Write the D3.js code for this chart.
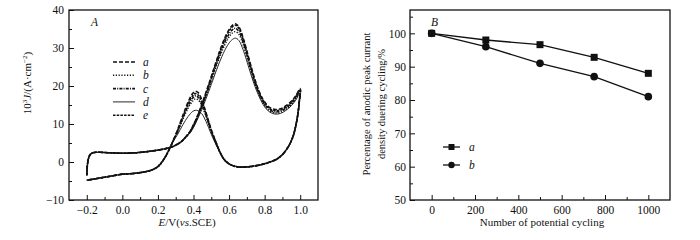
<!DOCTYPE html>
<html>
<head>
<meta charset="utf-8">
<script src="https://cdn.jsdelivr.net/npm/d3@7"></script>
<style>
  body { margin: 0; background: #fff; }
  text { font-family: "Liberation Serif", "Times New Roman", serif; fill: #111; }
</style>
</head>
<body>
<svg id="chart" width="700" height="240"></svg>
<script>
// ---- panel A data : cyclic voltammograms, [E (V), 10^3 J (A/cm2)] ----
// shared parts of the loop
const fwdLow = [[-0.2,-3.5],[-0.197,-1],[-0.19,1],[-0.18,2],[-0.165,2.45],[-0.13,2.55],[-0.08,2.45],[0.0,2.3],[0.08,2.45],[0.15,2.8],[0.22,3.3],[0.28,4],[0.33,5.3],[0.355,6.5]];
const revHigh = [[0.995,16],[0.988,13],[0.975,9.5],[0.958,6.5],[0.935,4.2],[0.905,2.2],[0.87,0.8],[0.83,0],[0.78,-0.7],[0.72,-1.2],[0.67,-1.35],[0.63,-1.1],[0.6,-0.5],[0.575,0.5],[0.555,2]];
const revLow = [[0.28,5],[0.255,2.5],[0.23,0.5],[0.2,-1.2],[0.16,-2.2],[0.1,-2.8],[0.04,-3.1],[0.0,-3.2],[-0.05,-3.6],[-0.1,-4],[-0.15,-4.4],[-0.2,-4.8]];

// per curve: forward peak part and reverse peak part
const fwdA = [[0.38,8],[0.41,10.8],[0.44,14.3],[0.47,18.3],[0.5,22.5],[0.53,26.8],[0.56,30.8],[0.59,34],[0.615,35.8],[0.635,36.4],[0.655,35.6],[0.68,32.5],[0.71,27.5],[0.74,22.5],[0.77,18.5],[0.8,15.8],[0.83,14.3],[0.86,13.8],[0.89,14],[0.92,14.8],[0.95,16],[0.975,17.4],[1.0,19.3]];
const revA = [[0.53,4.8],[0.5,8.5],[0.47,13],[0.445,16.6],[0.425,18.3],[0.41,18.6],[0.395,18],[0.37,15.8],[0.34,12.2],[0.31,8.4]];

const fwdB = [[0.38,7.8],[0.41,10.3],[0.44,13.6],[0.47,17.3],[0.5,21.3],[0.53,25.4],[0.56,29.1],[0.59,32.1],[0.615,33.8],[0.635,34.3],[0.655,33.6],[0.68,30.7],[0.71,26],[0.74,21.3],[0.77,17.6],[0.8,14.9],[0.83,13.4],[0.86,12.9],[0.89,13.1],[0.92,13.9],[0.95,15.1],[0.975,16.6],[1.0,18.5]];
const revB = [[0.53,4.5],[0.5,7.9],[0.47,12],[0.445,15],[0.425,16.4],[0.41,16.6],[0.395,16],[0.37,14.2],[0.34,11.2],[0.31,7.8]];

const fwdC = [[0.38,7.9],[0.41,10.5],[0.44,13.9],[0.47,17.7],[0.5,21.8],[0.53,26],[0.56,29.8],[0.59,32.9],[0.615,34.6],[0.635,35.2],[0.655,34.4],[0.68,31.4],[0.71,26.6],[0.74,21.7],[0.77,17.9],[0.8,15.2],[0.83,13.7],[0.86,13.2],[0.89,13.4],[0.92,14.2],[0.95,15.4],[0.975,16.9],[1.0,18.8]];
const revC = [[0.53,4.6],[0.5,8.1],[0.47,12.4],[0.445,15.6],[0.425,17.1],[0.41,17.4],[0.395,16.8],[0.37,14.8],[0.34,11.6],[0.31,8]];

const fwdD = [[0.38,7.6],[0.41,10],[0.44,13.1],[0.47,16.6],[0.5,20.4],[0.53,24.3],[0.56,27.8],[0.59,30.6],[0.615,32.1],[0.635,32.6],[0.655,32],[0.68,29.4],[0.71,25],[0.74,20.6],[0.77,17.1],[0.8,14.5],[0.83,13.1],[0.86,12.6],[0.89,12.8],[0.92,13.6],[0.95,14.8],[0.975,16.3],[1.0,18.2]];
const revD = [[0.53,4.2],[0.5,7.3],[0.47,10.7],[0.445,12.8],[0.425,13.5],[0.41,13.6],[0.395,13.3],[0.37,12],[0.34,9.8],[0.31,7.2]];

const fwdE = [[0.38,8],[0.41,10.7],[0.44,14.1],[0.47,18],[0.5,22.2],[0.53,26.5],[0.56,30.4],[0.59,33.6],[0.615,35.4],[0.635,36],[0.655,35.2],[0.68,32.1],[0.71,27.1],[0.74,22.1],[0.77,18.2],[0.8,15.5],[0.83,14],[0.86,13.5],[0.89,13.7],[0.92,14.5],[0.95,15.7],[0.975,17.2],[1.0,19.1]];
const revE = [[0.53,4.7],[0.5,8.3],[0.47,12.7],[0.445,16.1],[0.425,17.7],[0.41,18],[0.395,17.4],[0.37,15.3],[0.34,11.9],[0.31,8.2]];

const cvNames = ["a", "b", "c", "d", "e"];

// ---- panel B data ----
const cycles = [0, 250, 500, 750, 1000];
const percentA = [100, 98, 96.6, 92.8, 88];
const percentB = [100, 96, 91, 87, 81];

const svg = d3.select("#chart");

// ================= panel A =================
const xA = d3.scaleLinear().domain([-0.3, 1.1]).range([69, 318]);
const yA = d3.scaleLinear().domain([-10, 40]).range([200, 10]);

const gA = svg.append("g");

gA.append("g")
  .attr("transform", "translate(0,200)")
  .call(d3.axisBottom(xA).tickValues([-0.2, 0, 0.2, 0.4, 0.6, 0.8, 1.0])
    .tickFormat(d3.format(".1f")).tickSizeInner(-5).tickSizeOuter(0).tickPadding(6));
gA.append("g")
  .attr("transform", "translate(0,200)")
  .call(d3.axisBottom(xA).tickValues([-0.1, 0.1, 0.3, 0.5, 0.7, 0.9])
    .tickFormat("").tickSizeInner(-3).tickSizeOuter(0));
gA.append("g")
  .attr("transform", "translate(69,0)")
  .call(d3.axisLeft(yA).tickValues([-10, 0, 10, 20, 30, 40])
    .tickSizeInner(-5).tickSizeOuter(0).tickPadding(5));
gA.append("g")
  .attr("transform", "translate(69,0)")
  .call(d3.axisLeft(yA).tickValues([-5, 5, 15, 25, 35])
    .tickFormat("").tickSizeInner(-3).tickSizeOuter(0));

gA.append("rect")
  .attr("x", 69).attr("y", 10).attr("width", 318 - 69).attr("height", 190)
  .attr("fill", "none").attr("stroke", "#111").attr("stroke-width", 1.3);

const cvLine = d3.line()
  .x(d => xA(d[0]))
  .y(d => yA(d[1]))
  .curve(d3.curveCatmullRom.alpha(0.5));

const cvStyles = {
  a: { dash: "4,2", w: 1.6 },
  b: { dash: "1.2,1.6", w: 1.4 },
  c: { dash: "3,1.2,1,1.2", w: 1.6 },
  d: { dash: null, w: 0.9 },
  e: { dash: "2.5,1.2", w: 1.6 }
};
const cvParts = { a: [fwdA, revA], b: [fwdB, revB], c: [fwdC, revC], d: [fwdD, revD], e: [fwdE, revE] };

["d", "b", "c", "e", "a"].forEach(name => {
  const pts = fwdLow.concat(cvParts[name][0], revHigh, cvParts[name][1], revLow);
  gA.append("path")
    .attr("d", cvLine(pts))
    .attr("fill", "none")
    .attr("stroke", "#111")
    .attr("stroke-width", cvStyles[name].w)
    .attr("stroke-dasharray", cvStyles[name].dash);
});

// legend A
cvNames.forEach((name, i) => {
  const y = 62 + i * 13.3;
  gA.append("line")
    .attr("x1", 113).attr("x2", 135).attr("y1", y).attr("y2", y)
    .attr("stroke", "#111")
    .attr("stroke-width", cvStyles[name].w)
    .attr("stroke-dasharray", cvStyles[name].dash);
  gA.append("text")
    .attr("x", 143).attr("y", y + 4)
    .attr("font-size", 11.5).attr("font-style", "italic")
    .text(name);
});

gA.append("text").attr("x", 91).attr("y", 26)
  .attr("font-size", 11.5).attr("font-style", "italic").text("A");

// axis titles A
const yTitleA = gA.append("text")
  .attr("transform", "translate(31,83) rotate(-90)")
  .attr("text-anchor", "middle").attr("font-size", 11);
yTitleA.append("tspan").text("10");
yTitleA.append("tspan").attr("font-size", 7).attr("dy", -4).text("3");
yTitleA.append("tspan").attr("dy", 4).attr("font-style", "italic").text("J");
yTitleA.append("tspan").text("/(A\u00B7cm");
yTitleA.append("tspan").attr("font-size", 7).attr("dy", -4).text("\u22122");
yTitleA.append("tspan").attr("dy", 4).text(")");

const xTitleA = gA.append("text")
  .attr("x", 187).attr("y", 226)
  .attr("text-anchor", "middle").attr("font-size", 11);
xTitleA.append("tspan").attr("font-style", "italic").text("E");
xTitleA.append("tspan").text("/V(");
xTitleA.append("tspan").attr("font-style", "italic").text("vs");
xTitleA.append("tspan").text(".SCE)");

// ================= panel B =================
const xB = d3.scaleLinear().domain([-100, 1100]).range([410, 670]);
const yB = d3.scaleLinear().domain([50, 107]).range([200, 10]);

const gB = svg.append("g");

gB.append("g")
  .attr("transform", "translate(0,200)")
  .call(d3.axisBottom(xB).tickValues([0, 200, 400, 600, 800, 1000])
    .tickFormat(d3.format("d")).tickSizeInner(-5).tickSizeOuter(0).tickPadding(6));
gB.append("g")
  .attr("transform", "translate(0,200)")
  .call(d3.axisBottom(xB).tickValues([100, 300, 500, 700, 900])
    .tickFormat("").tickSizeInner(-3).tickSizeOuter(0));
gB.append("g")
  .attr("transform", "translate(410,0)")
  .call(d3.axisLeft(yB).tickValues([50, 60, 70, 80, 90, 100])
    .tickSizeInner(-5).tickSizeOuter(0).tickPadding(4));
gB.append("g")
  .attr("transform", "translate(410,0)")
  .call(d3.axisLeft(yB).tickValues([55, 65, 75, 85, 95, 105])
    .tickFormat("").tickSizeInner(-3).tickSizeOuter(0));

gB.append("rect")
  .attr("x", 410).attr("y", 10).attr("width", 260).attr("height", 190)
  .attr("fill", "none").attr("stroke", "#111").attr("stroke-width", 1.3);

const lineB = d3.line().x(d => xB(d[0])).y(d => yB(d[1]));
const seriesB = [
  { name: "a", values: percentA, shape: "square" },
  { name: "b", values: percentB, shape: "circle" }
];

seriesB.forEach(s => {
  const pts = cycles.map((c, i) => [c, s.values[i]]);
  gB.append("path")
    .attr("d", lineB(pts))
    .attr("fill", "none").attr("stroke", "#111").attr("stroke-width", 1.3);
  pts.forEach(p => {
    if (s.shape == "square") {
      gB.append("rect")
        .attr("x", xB(p[0]) - 3.5).attr("y", yB(p[1]) - 3.5)
        .attr("width", 7).attr("height", 7).attr("fill", "#111");
    } else {
      gB.append("circle")
        .attr("cx", xB(p[0])).attr("cy", yB(p[1])).attr("r", 3.8).attr("fill", "#111");
    }
  });
});

// legend B
seriesB.forEach((s, i) => {
  const y = 147 + i * 18;
  gB.append("line")
    .attr("x1", 443).attr("x2", 460).attr("y1", y).attr("y2", y)
    .attr("stroke", "#111").attr("stroke-width", 1.3);
  if (s.shape == "square") {
    gB.append("rect").attr("x", 448.5).attr("y", y - 3).attr("width", 6).attr("height", 6).attr("fill", "#111");
  } else {
    gB.append("circle").attr("cx", 451.5).attr("cy", y).attr("r", 3.2).attr("fill", "#111");
  }
  gB.append("text")
    .attr("x", 469).attr("y", y + 4)
    .attr("font-size", 11.5).attr("font-style", "italic")
    .text(s.name);
});

gB.append("text").attr("x", 431).attr("y", 26)
  .attr("font-size", 11.5).attr("font-style", "italic").text("B");

gB.append("text")
  .attr("transform", "translate(370,104) rotate(-90)")
  .attr("text-anchor", "middle").attr("font-size", 10.5)
  .text("Percentage of anodic peak currant");
gB.append("text")
  .attr("transform", "translate(385,104) rotate(-90)")
  .attr("text-anchor", "middle").attr("font-size", 10.5)
  .text("density duering cycling/%");

gB.append("text")
  .attr("x", 542).attr("y", 226)
  .attr("text-anchor", "middle").attr("font-size", 11)
  .text("Number of potential cycling");

svg.selectAll(".tick text").attr("font-size", 11.5).attr("fill", "#111")
  .attr("font-family", "'Liberation Serif', 'Times New Roman', serif");
svg.selectAll(".tick line").attr("stroke", "#111");
svg.selectAll(".domain").remove();
</script>
</body>
</html>
